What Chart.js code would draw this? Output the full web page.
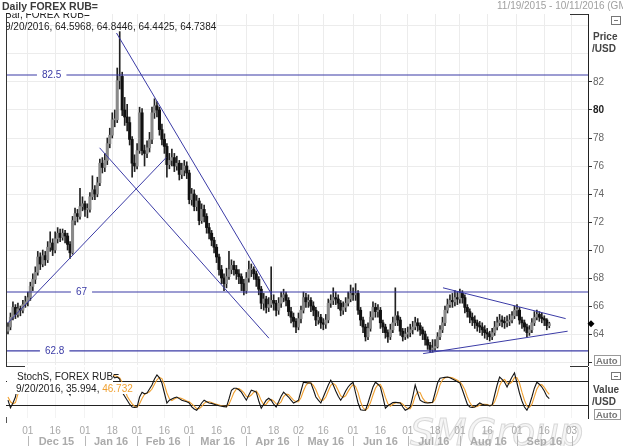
<!DOCTYPE html>
<html><head><meta charset="utf-8">
<script src="https://cdn.jsdelivr.net/npm/chart.js@4.4.1/dist/chart.umd.min.js"></script>
<style>
html,body{margin:0;padding:0;background:#fff;width:623px;height:446px;overflow:hidden;position:relative}
canvas{position:absolute;left:0}
#c1{top:0}
#c2{top:365px}
</style></head><body>
<canvas id="c1" width="623" height="367"></canvas>
<canvas id="c2" width="623" height="81"></canvas>
<script>
// ---- data (x = trading-day index, 0 = 11/19/2015, weekdays only) ----
const dayTickIdx    = [8,19,31,42,52,63,73,84,96,107,117,127,139,150,161,172,182,193,205,216,227];
const dayTickLabels = ['01','16','01','18','01','16','01','16','01','18','02','16','01','16','01','18','01','16','01','16','03'];
const monthStartIdx = [8,31,52,73,96,117,139,161,182,205,227];
const monthLabels   = ['Dec 15','Jan 16','Feb 16','Mar 16','Apr 16','May 16','Jun 16','Jul 16','Aug 16','Sep 16'];
const priceTicks = [62,64,66,68,70,72,74,76,78,80,82,84,86];
const stochTicks = [20,80];

const opens = [
64.2,64.5,65.2,65.9,65.4,65.8,65.7,66.1,66.3,66.6,
67.4,67.9,68.4,69.5,69.0,69.6,69.3,70.2,70.5,70.0,
70.8,71.2,70.9,71.2,71.0,70.4,69.8,72.1,72.6,72.4,
73.1,73.3,72.9,72.9,73.8,74.3,74.0,74.8,76.2,75.9,
76.4,77.6,78.2,79.3,79.3,82.1,82.4,80.0,79.5,79.1,
77.9,76.2,76.0,77.1,79.8,77.1,76.9,77.3,77.9,79.8,
80.3,80.0,78.6,77.9,77.4,76.1,76.4,76.6,76.0,76.2,
75.4,75.7,76.0,75.5,73.6,74.0,73.1,73.5,72.1,72.9,
72.4,71.6,71.2,70.7,70.2,69.5,68.6,68.0,67.6,68.1,
68.6,68.9,68.6,68.3,68.1,67.6,67.1,68.0,68.6,68.6,
68.3,67.9,67.2,66.2,66.5,65.9,66.1,66.4,66.2,65.7,
66.2,66.6,66.8,66.4,65.6,65.2,64.9,64.5,65.1,65.7,
66.6,66.3,66.4,66.0,65.7,65.0,65.2,64.8,64.7,65.0,
66.2,66.4,66.6,66.5,66.2,65.7,65.9,66.2,66.5,66.9,
66.8,66.9,65.7,65.0,64.5,63.8,64.4,65.2,65.9,65.6,
65.7,64.8,64.5,64.1,63.8,64.3,64.8,65.3,65.0,64.2,
63.8,64.0,64.1,64.3,64.5,64.8,64.6,64.3,64.0,63.6,
63.2,62.9,63.0,63.1,63.8,64.3,64.8,65.7,66.1,66.4,
66.3,66.6,66.5,66.9,66.6,65.9,65.6,65.2,65.0,64.8,
64.6,64.5,64.3,64.1,64.0,63.8,64.1,64.5,64.8,65.0,
64.9,64.8,64.9,65.0,65.3,65.7,65.7,65.0,64.8,64.5,
64.1,64.3,64.8,65.2,65.4,65.2,65.1,65.0,64.5968];
const closes = [
64.5,65.2,65.9,65.4,65.8,65.7,66.1,66.3,66.6,67.4,
67.9,68.4,69.5,69.0,69.6,69.3,70.2,70.5,70.0,70.8,
71.2,70.9,71.2,71.0,70.4,69.8,72.1,72.6,72.4,73.1,
73.3,72.9,72.9,73.8,74.3,74.0,74.8,76.2,75.9,76.4,
77.6,78.2,79.3,79.3,82.1,82.4,80.0,79.5,79.1,77.9,
76.2,76.0,77.1,79.8,77.1,76.9,77.3,77.9,79.8,80.3,
80.0,78.6,77.9,77.4,76.1,76.4,76.6,76.0,76.2,75.4,
75.7,76.0,75.5,73.6,74.0,73.1,73.5,72.1,72.9,72.4,
71.6,71.2,70.7,70.2,69.5,68.6,68.0,67.6,68.1,68.6,
68.9,68.6,68.3,68.1,67.6,67.1,68.0,68.6,68.6,68.3,
67.9,67.2,66.2,66.5,65.9,66.1,66.4,66.2,65.7,66.2,
66.6,66.8,66.4,65.6,65.2,64.9,64.5,65.1,65.7,66.6,
66.3,66.4,66.0,65.7,65.0,65.2,64.8,64.7,65.0,66.2,
66.4,66.6,66.5,66.2,65.7,65.9,66.2,66.5,66.9,66.8,
66.9,65.7,65.0,64.5,63.8,64.4,65.2,65.9,65.6,65.7,
64.8,64.5,64.1,63.8,64.3,64.8,65.3,65.0,64.2,63.8,
64.0,64.1,64.3,64.5,64.8,64.6,64.3,64.0,63.6,63.2,
62.9,63.0,63.1,63.8,64.3,64.8,65.7,66.1,66.4,66.3,
66.6,66.5,66.9,66.6,65.9,65.6,65.2,65.0,64.8,64.6,
64.5,64.3,64.1,64.0,63.8,64.1,64.5,64.8,65.0,64.9,
64.8,64.9,65.0,65.3,65.7,65.7,65.0,64.8,64.5,64.1,
64.3,64.8,65.2,65.4,65.2,65.1,65.0,64.6,64.7384];
const highs = [
64.8,65.5,66.3,66.1,66.2,66.0,66.4,66.7,67.0,67.7,
68.3,68.8,69.9,69.8,70.0,69.9,70.6,71.3,70.8,71.3,
71.6,71.5,71.5,71.4,71.2,70.6,72.4,73.0,72.9,74.4,
73.8,73.5,73.3,74.1,75.3,74.6,75.2,76.5,76.6,76.9,
78.0,78.7,79.8,80.0,83.0,85.6,82.7,80.9,80.4,79.5,
78.1,76.8,77.6,80.2,80.1,77.5,77.8,78.4,80.2,80.8,
80.6,80.2,79.0,78.3,77.6,76.9,77.2,76.9,76.7,76.4,
76.2,76.4,76.3,75.7,74.4,74.3,73.9,73.7,73.3,73.2,
72.6,71.9,71.4,70.9,70.4,69.7,68.9,68.3,68.7,69.9,
69.3,69.2,68.9,68.6,68.3,67.9,68.4,69.2,69.0,68.8,
68.5,68.1,67.4,66.9,66.7,66.6,68.8,66.8,66.4,66.6,
67.0,67.2,67.0,66.6,65.9,65.5,65.1,65.5,66.0,67.0,
66.9,66.8,66.6,66.3,65.9,65.6,65.4,65.1,65.4,66.5,
66.8,67.3,67.0,66.8,66.4,66.3,66.6,67.0,67.5,67.3,
67.6,67.1,65.9,65.2,64.7,64.8,65.6,66.3,66.2,66.1,
65.9,65.0,64.7,64.3,64.7,65.2,67.3,65.6,65.2,64.4,
64.4,64.5,64.7,64.9,65.2,65.1,64.8,64.5,64.2,63.8,
63.4,63.6,63.6,64.1,64.6,65.2,66.0,66.5,66.8,66.9,
67.1,67.0,67.2,67.1,66.8,66.1,65.8,65.5,65.3,65.0,
64.9,64.8,64.6,64.4,64.2,64.4,64.9,65.2,65.4,65.3,
65.2,65.3,65.4,65.6,66.0,66.1,65.9,65.2,65.0,64.7,
64.6,65.1,65.6,65.7,65.6,65.5,65.3,65.1,64.8446];
const lows = [
64.0,64.3,65.0,65.1,65.2,65.3,65.5,65.9,66.0,66.4,
67.1,67.6,68.2,68.6,68.8,68.9,69.1,69.9,69.6,69.8,
70.5,70.6,70.7,70.5,70.0,69.4,69.7,71.8,72.0,72.2,
72.8,72.4,72.3,72.7,73.6,73.6,73.8,74.6,75.5,75.6,
76.1,77.3,78.0,78.8,79.1,81.5,79.6,78.9,78.5,77.5,
75.2,75.6,75.8,76.9,76.8,76.0,76.6,77.0,77.6,79.4,
79.5,78.2,77.5,76.9,75.2,75.8,76.0,75.6,75.7,75.0,
75.1,75.3,75.1,73.3,73.2,72.8,72.8,71.8,71.9,72.0,
71.2,70.8,70.3,69.8,69.1,68.2,67.6,67.1,67.3,67.9,
68.3,68.2,67.9,67.6,67.1,66.8,66.9,67.7,68.1,67.9,
67.4,66.8,65.8,65.7,65.5,65.6,65.9,65.7,65.3,65.4,
65.9,66.3,66.0,65.3,64.8,64.5,64.1,64.3,64.8,65.5,
65.9,65.9,65.6,65.3,64.6,64.7,64.4,64.3,64.4,64.8,
65.9,66.1,66.1,65.8,65.3,65.4,65.6,66.0,66.3,66.4,
66.4,65.4,64.6,64.1,63.5,63.6,64.2,65.0,65.2,65.2,
64.4,64.1,63.7,63.4,63.6,64.1,64.6,64.6,63.9,63.5,
63.6,63.7,63.8,64.0,64.3,64.2,63.9,63.6,63.2,62.9,
62.7,62.7,62.8,63.0,63.6,64.1,64.6,65.5,65.9,65.9,
66.0,66.1,66.2,66.2,65.5,65.2,64.8,64.6,64.4,64.2,
64.1,63.9,63.7,63.6,63.5,63.6,63.9,64.3,64.6,64.5,
64.4,64.5,64.6,64.8,65.1,65.3,64.7,64.4,64.2,63.8,
63.9,64.1,64.6,65.0,64.9,64.8,64.6,64.3,64.4425];
const stochK = [
32,13,25,40,75,82,78,85,88,92,
90,93,94,85,88,80,86,90,78,84,
88,80,82,72,55,45,78,85,80,88,
86,75,72,82,88,84,88,94,90,92,
94,95,95,88,90,85,52,42,32,22,
15,14,15,40,52,48,50,60,70,85,
95,88,75,50,25,32,35,38,40,36,
32,30,28,25,15,10,7,15,25,32,
28,25,24,22,20,18,17,16,15,35,
57,62,62,58,52,42,32,45,57,55,
52,30,12,22,32,37,32,22,15,28,
42,52,46,40,32,25,28,32,55,77,
76,75,75,58,40,32,25,40,55,70,
82,70,55,42,32,42,55,65,72,77,
50,25,8,7,7,25,45,65,77,72,
65,40,12,18,22,26,27,26,25,15,
7,10,15,40,70,50,32,28,26,25,
26,27,50,75,87,88,89,90,88,85,
82,78,75,58,40,22,15,14,15,20,
25,22,20,20,18,20,45,70,90,84,
77,65,78,90,100,75,50,30,15,7,
20,40,62,77,72,65,55,42,35.994];
const stochD = [
40,28,23,26,47,66,78,82,84,88,
90,92,92,91,89,84,85,85,85,84,
83,84,83,78,70,57,59,69,81,84,
85,83,78,76,81,85,87,89,91,92,
92,94,95,93,91,88,76,60,42,32,
23,17,15,23,36,47,50,53,60,72,
83,89,86,71,50,36,31,35,38,38,
36,33,30,28,23,17,11,11,16,24,
28,28,26,24,22,20,18,17,16,22,
36,51,60,61,57,51,42,40,45,52,
55,46,31,21,22,30,34,30,23,22,
28,41,47,46,39,32,28,28,38,55,
69,76,75,69,58,43,32,32,40,55,
69,74,69,56,43,39,43,54,64,71,
66,51,28,13,7,13,26,45,62,71,
71,59,39,23,17,22,25,26,26,22,
16,11,11,22,42,53,51,37,29,26,
26,26,34,51,71,83,88,89,89,88,
85,82,78,70,58,40,26,17,15,16,
20,22,22,21,19,19,28,45,68,81,
84,75,73,78,89,88,75,52,32,17,
14,22,41,60,70,71,64,54,46.732];

const levels = [82.5, 67, 62.8];
const levelLabelIdx = [17.6, 29.6, 18.8];
// trend lines: [startIdx, startPrice, endIdx, endPrice]
const trendLines = [
  [43.7, 85.5, 106.3, 66.8],
  [36.9, 77.3, 105.1, 63.7],
  [0.0, 64.8, 63.7, 76.6],
  [175.2, 67.3, 224.6, 65.1],
  [167.2, 62.6, 225.4, 64.2]
];

// ---- styling ----
const FONT = '"Liberation Sans", Arial, sans-serif';
const XMIN = -0.8, XMAX = 233.6;
const BLUE = '#3b3ba6';
const UP = '#8a8a8a', DOWN = '#111111';

const xScaleBase = (h) => ({
  type: 'linear', min: XMIN, max: XMAX, offset: false,
  afterBuildTicks: s => { s.ticks = dayTickIdx.map(v => ({value: v})); },
  ticks: {display: false, autoSkip: false},
  grid: {color: '#ececec', drawTicks: false, offset: false},
  border: {display: false},
  afterFit: s => { s.height = h; s.paddingLeft = 0; s.paddingRight = 0; }
});

// ---- main chart ----
const lineDs = [];
levels.forEach(lv => lineDs.push({
  type: 'line', data: [{x: XMIN, y: lv}, {x: XMAX, y: lv}],
  borderColor: BLUE, borderWidth: 1.2, pointRadius: 0, fill: false
}));
trendLines.forEach(t => lineDs.push({
  type: 'line', data: [{x: t[0], y: t[1]}, {x: t[2], y: t[3]}],
  borderColor: BLUE, borderWidth: 1, pointRadius: 0, fill: false
}));
const bodyDs = {
  type: 'bar', grouped: false, barThickness: 2.4, minBarLength: 1, borderWidth: 0,
  data: closes.map((c, i) => ({x: i, y: [opens[i], c]})),
  backgroundColor: closes.map((c, i) => c >= opens[i] ? UP : DOWN)
};
const wickDs = {
  type: 'bar', grouped: false, barThickness: 1, borderWidth: 0,
  data: highs.map((h, i) => ({x: i, y: [lows[i], h]})),
  backgroundColor: '#222'
};

const decoA = {
  id: 'decoA',
  afterDraw(chart) {
    const ctx = chart.ctx, ca = chart.chartArea, xs = chart.scales.x, ys = chart.scales.y;
    ctx.save();
    // level labels
    ctx.font = '10px ' + FONT; ctx.textAlign = 'center'; ctx.textBaseline = 'middle';
    levels.forEach((lv, k) => {
      const x = xs.getPixelForValue(levelLabelIdx[k]), y = ys.getPixelForValue(lv);
      const t = String(lv); const w = ctx.measureText(t).width + 10;
      ctx.fillStyle = '#fff'; ctx.fillRect(x - w / 2, y - 4, w, 8);
      ctx.fillStyle = BLUE; ctx.fillText(t, x, y + 0.5);
    });
    // header inside plot
    ctx.textAlign = 'left'; ctx.textBaseline = 'alphabetic';
    ctx.save(); ctx.beginPath(); ctx.rect(ca.left, 13, 300, 30); ctx.clip();
    ctx.fillStyle = '#222'; ctx.font = '10px ' + FONT;
    ctx.fillText('Bar, FOREX RUB=', 5, 18);
    ctx.fillText('9/20/2016, 64.5968, 64.8446, 64.4425, 64.7384', 5, 30);
    ctx.restore();
    // title band
    ctx.fillStyle = '#3a3a3a'; ctx.font = 'bold 10.5px ' + FONT;
    ctx.fillText('Daily FOREX RUB=', 2, 10);
    ctx.fillStyle = '#a0a0a0'; ctx.font = '10px ' + FONT;
    ctx.fillText('11/19/2015 - 10/11/2016 (GMT)', 497, 9);
    // frame
    ctx.strokeStyle = '#333'; ctx.lineWidth = 1;
    ctx.beginPath();
    ctx.moveTo(ca.left + 0.5, ca.top); ctx.lineTo(ca.left + 0.5, 367);
    ctx.moveTo(ca.left, 366.5); ctx.lineTo(25, 366.5);
    ctx.moveTo(570, ca.top + 0.5); ctx.lineTo(ca.right, ca.top + 0.5);
    ctx.moveTo(570, 366.5); ctx.lineTo(ca.right, 366.5);
    ctx.stroke();
    // right axis title
    ctx.fillStyle = '#444'; ctx.font = 'bold 10px ' + FONT;
    ctx.fillText('Price', 593, 40);
    ctx.fillText('/USD', 592, 52);
    // icon box
    ctx.strokeStyle = '#777'; ctx.strokeRect(611.5, 16.5, 9, 8);
    ctx.fillStyle = '#777'; ctx.fillRect(614, 20, 4, 1);
    // Auto box
    ctx.strokeStyle = '#999'; ctx.strokeRect(594.5, 355.5, 26, 10);
    ctx.fillStyle = '#777'; ctx.font = 'bold 9.5px ' + FONT;
    ctx.fillText('Auto', 596, 364);
    // last price marker
    const ly = ys.getPixelForValue(closes[closes.length - 1]);
    ctx.fillStyle = '#000'; ctx.beginPath();
    ctx.moveTo(591, ly - 3.5); ctx.lineTo(594.5, ly); ctx.lineTo(591, ly + 3.5); ctx.lineTo(587.5, ly); ctx.closePath(); ctx.fill();
    ctx.restore();
  }
};

new Chart(document.getElementById('c1'), {
  type: 'bar',
  data: {datasets: [...lineDs, bodyDs, wickDs]},
  options: {
    responsive: false, animation: false, events: [],
    layout: {padding: {left: 6, top: 14, right: 0, bottom: 2}},
    plugins: {legend: {display: false}, tooltip: {enabled: false}},
    scales: {
      x: xScaleBase(0),
      y: {
        type: 'linear', position: 'right', min: 61.786, max: 86.857,
        afterBuildTicks: s => { s.ticks = priceTicks.map(v => ({value: v})); },
        ticks: {
          autoSkip: false, padding: 1,
          callback: v => (v >= 64 && v <= 82) ? String(v) : '',
          font: c => ({family: FONT, size: 10, weight: (c.tick && c.tick.value === 80) ? 'bold' : 'normal'}),
          color: c => (c.tick && c.tick.value === 80) ? '#222' : '#666'
        },
        grid: {color: '#ececec', tickLength: 4, drawTicks: true,
               tickColor: c => (c.tick && c.tick.value <= 82) ? '#333' : 'rgba(0,0,0,0)'},
        border: {display: true, color: '#222', width: 1},
        afterFit: s => { s.width = 35; s.paddingTop = 0; s.paddingBottom = 0; }
      }
    }
  },
  plugins: [decoA]
});

// ---- stochastic chart ----
const decoB = {
  id: 'decoB',
  beforeDatasetsDraw(chart) {
    const ctx = chart.ctx;
    ctx.save();
    // faint watermark
    ctx.font = 'italic 38px "DejaVu Sans", sans-serif';
    ctx.textAlign = 'left'; ctx.textBaseline = 'alphabetic';
    ctx.fillStyle = 'rgba(238,238,238,0.6)'; ctx.strokeStyle = 'rgba(205,205,205,0.75)'; ctx.lineWidth = 1;
    ctx.fillText('SMGroup', 410, 80); ctx.strokeText('SMGroup', 410, 80);
    ctx.restore();
  },
  afterDraw(chart) {
    const ctx = chart.ctx, ca = chart.chartArea, xs = chart.scales.x;
    ctx.save();
    // label boxes
    ctx.fillStyle = '#fff';
    ctx.fillRect(ca.left + 1, 6, 106, 11);
    ctx.fillRect(ca.left + 1, 17, 131, 12);
    ctx.font = '10px ' + FONT; ctx.textAlign = 'left'; ctx.textBaseline = 'alphabetic';
    ctx.fillStyle = '#222';
    ctx.fillText('StochS, FOREX RUB=', 17, 15);
    const s1 = '9/20/2016, 35.994, ';
    ctx.fillText(s1, 16, 27);
    ctx.fillStyle = '#f0a030';
    ctx.fillText('46.732', 16 + ctx.measureText(s1).width, 27);
    // right side texts
    ctx.fillStyle = '#444'; ctx.font = 'bold 10px ' + FONT;
    ctx.fillText('Value', 593, 28);
    ctx.fillText('/USD', 592, 40);
    ctx.strokeStyle = '#777'; ctx.lineWidth = 1; ctx.strokeRect(611.5, 7.5, 9, 7);
    ctx.fillStyle = '#777'; ctx.fillRect(614, 11, 4, 1);
    ctx.strokeStyle = '#999'; ctx.strokeRect(594.5, 44.5, 26, 10);
    ctx.fillStyle = '#777'; ctx.font = 'bold 9.5px ' + FONT;
    ctx.fillText('Auto', 596, 53);
    // left stub
    ctx.strokeStyle = '#555'; ctx.beginPath(); ctx.moveTo(ca.left + 0.5, 52); ctx.lineTo(ca.left + 0.5, 58); ctx.stroke();
    // day ticks
    ctx.textAlign = 'center';
    ctx.font = '10px ' + FONT; ctx.fillStyle = '#a8a8a8';
    dayTickIdx.forEach((v, k) => ctx.fillText(dayTickLabels[k], xs.getPixelForValue(v), 69));
    // month separators and labels
    ctx.strokeStyle = '#b8b8b8'; ctx.lineWidth = 1;
    monthStartIdx.forEach(v => {
      const x = Math.round(xs.getPixelForValue(v)) + 0.5;
      ctx.beginPath(); ctx.moveTo(x, 71); ctx.lineTo(x, 81); ctx.stroke();
    });
    ctx.font = 'bold 11px ' + FONT; ctx.fillStyle = '#ababab';
    monthLabels.forEach((m, k) => {
      const x = (xs.getPixelForValue(monthStartIdx[k]) + xs.getPixelForValue(monthStartIdx[k + 1])) / 2;
      ctx.fillText(m, x, 80);
    });
    ctx.restore();
  }
};

new Chart(document.getElementById('c2'), {
  type: 'line',
  data: {datasets: [
    {data: stochK.map((v, i) => ({x: i, y: v})), borderColor: '#141414', borderWidth: 1.1, pointRadius: 0, fill: false, tension: 0},
    {data: stochD.map((v, i) => ({x: i, y: v})), borderColor: '#f0a030', borderWidth: 1.1, pointRadius: 0, fill: false, tension: 0}
  ]},
  options: {
    responsive: false, animation: false, events: [],
    layout: {padding: {left: 6, top: 2, right: 0, bottom: 0}},
    plugins: {legend: {display: false}, tooltip: {enabled: false}},
    scales: {
      x: Object.assign(xScaleBase(28), {grid: {color: '#f3f3f3', drawTicks: false, offset: false}}),
      y: {
        type: 'linear', position: 'right', min: -12.5, max: 115,
        afterBuildTicks: s => { s.ticks = stochTicks.map(v => ({value: v})); },
        ticks: {display: false},
        grid: {color: '#222', drawTicks: false, lineWidth: 1},
        border: {display: true, color: '#222', width: 1},
        afterFit: s => { s.width = 35; s.paddingTop = 0; s.paddingBottom = 0; }
      }
    }
  },
  plugins: [decoB]
});
</script>
</body></html>
